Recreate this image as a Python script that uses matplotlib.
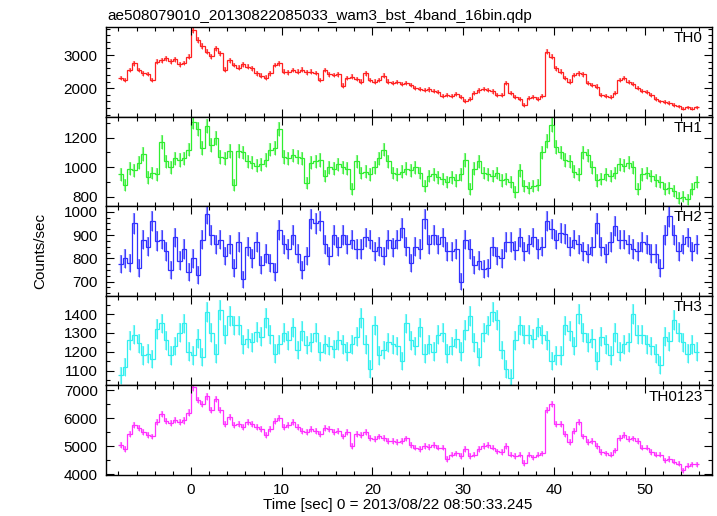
import matplotlib
matplotlib.use('Agg')
import matplotlib.pyplot as plt
from matplotlib.ticker import MultipleLocator
import numpy as np

plt.rcParams['font.family'] = ['Liberation Sans', 'DejaVu Sans']

BIN = 0.5
time = -7.75 + BIN * np.arange(128)

th0 = [2300, 2250, 2550, 2750, 2550, 2450, 2430, 2250, 2800, 2850,
       2900, 2820, 2880, 2720, 2760, 2950, 3750, 3450, 3280, 3100,
       2960, 3200, 3050, 2560, 2850, 2700, 2620, 2720, 2650, 2600,
       2450, 2380, 2320, 2450, 2700, 2750, 2500, 2480, 2550, 2500,
       2560, 2480, 2500, 2460, 2250, 2550, 2420, 2400, 2420, 2080,
       2300, 2350, 2280, 2200, 2450, 2250, 2200, 2250, 2380, 2200,
       2150, 2180, 2120, 2160, 2100, 2000, 1980, 1950, 1960, 1920,
       1880, 1760, 1800, 1750, 1820, 1720, 1620, 1680, 1850, 1930,
       1980, 1950, 1900, 1780, 1800, 2150, 1850, 1720, 1680, 1500,
       1700, 1720, 1680, 1750, 3100, 2950, 2600, 2500, 2300, 2200,
       2400, 2450, 2420, 2150, 2100, 2050, 1780, 1750, 1720, 1850,
       2250, 2300, 2180, 2120, 2000, 1920, 1880, 1800, 1680, 1600,
       1580, 1560, 1500, 1450, 1380, 1420, 1380, 1420]

th1 = [950, 880, 990, 980, 1030, 1090, 930, 960, 950, 1170,
       1040, 1000, 1060, 1050, 1060, 1120, 1310, 1260, 1130, 1280,
       1150, 1200, 1070, 1060, 1110, 880, 1110, 1100, 1040, 1030,
       1010, 1020, 1050, 1120, 1130, 1260, 1070, 1060, 1080, 1070,
       1060, 890, 1030, 1040, 1050, 940, 1000, 990, 1020, 1000,
       990, 850, 1040, 960, 970, 950, 1000, 1060, 1120, 1040,
       960, 950, 970, 990, 980, 1000, 960, 870, 940, 950,
       930, 920, 900, 930, 910, 950, 1050, 850, 990, 1040,
       960, 950, 940, 960, 910, 920, 900, 830, 980, 870,
       860, 870, 880, 1100, 1180, 1290, 1140, 1100, 1050, 1040,
       970, 950, 1100, 1080, 1000, 910, 920, 950, 940, 960,
       1020, 1010, 1030, 1000, 850, 950, 960, 940, 910, 900,
       850, 860, 840, 790, 800, 780, 850, 900]

th2 = [775, 800, 780, 950, 760, 880, 850, 960, 875, 880,
       830, 750, 890, 790, 840, 740, 800, 730, 880, 990,
       900, 860, 880, 810, 860, 760, 870, 710, 850, 800,
       870, 770, 820, 780, 740, 920, 860, 840, 900, 820,
       750, 810, 970, 950, 960, 860, 810, 900, 850, 900,
       860, 880, 840, 840, 890, 880, 830, 850, 810, 880,
       845, 880, 930, 850, 780, 850, 840, 970, 860, 900,
       860, 890, 830, 830, 840, 700, 880, 840, 770, 790,
       755, 760, 850, 810, 800, 870, 870, 835, 890, 830,
       860, 890, 840, 850, 960, 925, 880, 910, 905, 850,
       880, 860, 830, 820, 850, 950, 850, 820, 870, 940,
       880, 880, 860, 840, 830, 870, 860, 820, 820, 760,
       900, 980, 900, 830, 860, 890, 830, 860]

th3 = [1075, 1120, 1260, 1290, 1245, 1180, 1190, 1160, 1320, 1350,
       1260, 1180, 1230, 1300, 1350, 1200, 1180, 1270, 1170, 1410,
       1300, 1190, 1420, 1290, 1390, 1340, 1340, 1240, 1270, 1250,
       1305, 1280, 1380, 1290, 1190, 1240, 1300, 1260, 1330, 1210,
       1310, 1235, 1250, 1300, 1200, 1240, 1230, 1215, 1260, 1240,
       1200, 1240, 1280, 1380, 1240, 1110, 1340, 1180, 1210, 1250,
       1240, 1230, 1150, 1350, 1260, 1230, 1330, 1190, 1240, 1200,
       1290, 1300, 1190, 1230, 1270, 1200, 1315, 1390, 1250, 1170,
       1300, 1340, 1410, 1370, 1210, 1110, 1060, 1260, 1340, 1290,
       1290, 1270, 1330, 1290, 1260, 1150, 1180, 1180, 1340, 1310,
       1230, 1400, 1300, 1250, 1270, 1150, 1280, 1240, 1180, 1300,
       1200, 1240, 1250, 1400, 1290, 1290, 1240, 1230, 1190, 1130,
       1280, 1255, 1370, 1300, 1250, 1190, 1240, 1200]

th0123 = [5050, 4900, 5450, 5750, 5650, 5500, 5400, 5350, 5850, 6150,
          5900, 5820, 5950, 5880, 5920, 6200, 7100, 6650, 6500, 6780,
          6300, 6680, 6300, 5800, 6050, 5750, 5800, 5700, 5850, 5780,
          5700, 5600, 5400, 5600, 5900, 6000, 5700, 5750, 5850, 5700,
          5550, 5500, 5600, 5550, 5450, 5650, 5600, 5500, 5550, 5350,
          5500, 5000, 5450, 5400, 5500, 5300, 5250, 5350, 5300, 5200,
          5200, 5150, 5200, 5280, 5050, 4950, 4900, 5000, 4980, 5050,
          4950, 4950, 4550, 4700, 4750, 4650, 4900, 4650, 4700, 4900,
          5000, 5050, 4950, 4820, 4800, 5000, 4700, 4650, 4700, 4400,
          4700, 4600, 4700, 4750, 6300, 6500, 5800, 5800, 5450, 5150,
          5550, 5850, 5350, 5150, 5200, 5000, 4800, 4750, 4700, 4850,
          5300, 5400, 5250, 5280, 5200, 4950, 4950, 4800, 4700, 4700,
          4500, 4550, 4450, 4380, 4150, 4300, 4350, 4350]

bands = ['TH0', 'TH1', 'TH2', 'TH3', 'TH0123']
series = [th0, th1, th2, th3, th0123]
colors = ['#ff2020', '#30ee30', '#3030ff', '#30f0f0', '#ff30ff']
ylims = [(1140, 3850), (734, 1344), (639, 1024), (1021, 1497), (3975, 7170)]
majors = [1000, 200, 100, 100, 1000]
minors = [200, 100, 25, 50, 500]

fig, axes = plt.subplots(5, 1, sharex=True, figsize=(7.17, 5.16), dpi=100)
fig.subplots_adjust(left=106/717, right=712/717, top=1-27/516,
                    bottom=1-475/516, hspace=0)

edges = np.append(time - BIN/2, time[-1] + BIN/2)
for ax, name, vals, col, yl, mj, mn in zip(axes, bands, series, colors,
                                         ylims, majors, minors):
    vals = np.array(vals, dtype=float)
    err = np.sqrt(vals / BIN)  # poisson error of the count rate
    ax.errorbar(time, vals, yerr=err, fmt='none', ecolor=col, alpha=0.55,
                elinewidth=1.6, capsize=0)
    ax.stairs(vals, edges, color=col, lw=0.9, baseline=None)
    ax.errorbar(time, vals, yerr=err, fmt='none', ecolor=col,
                elinewidth=0.6, capsize=0)
    ax.set_ylim(yl)
    ax.yaxis.set_major_locator(MultipleLocator(mj))
    ax.yaxis.set_minor_locator(MultipleLocator(mn))
    ax.xaxis.set_major_locator(MultipleLocator(10))
    ax.xaxis.set_minor_locator(MultipleLocator(2))
    ax.tick_params(which='both', direction='in', top=True, right=True,
                   labelsize=11, width=0.8)
    ax.tick_params(which='major', length=6)
    ax.tick_params(which='minor', length=3)
    ax.tick_params(axis='y', pad=6)
    ax.tick_params(axis='x', pad=6)
    for s in ax.spines.values():
        s.set_linewidth(1.0)
    ax.text(0.985, 0.83, name, transform=ax.transAxes, ha='right',
            va='baseline', fontsize=11)

axes[-1].set_xlim(-9.37, 57.44)
fig.text(107/717, 1-20/516, 'ae508079010_20130822085033_wam3_bst_4band_16bin.qdp',
         ha='left', va='baseline', fontsize=11)
fig.text(40/717, 1-251/516, 'Counts/sec', rotation=90, ha='center',
         va='center', fontsize=11)
fig.text(398/717, 1-509/516, 'Time [sec] 0 = 2013/08/22 08:50:33.245',
         ha='center', va='baseline', fontsize=11)

fig.savefig('out.png', dpi=100)
